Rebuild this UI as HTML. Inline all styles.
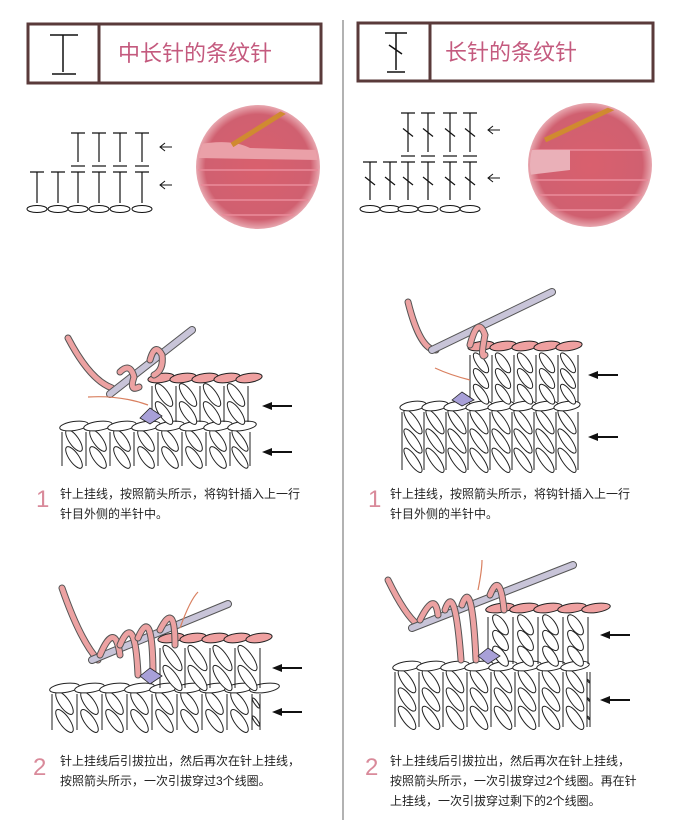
<!DOCTYPE html>
<html><head><meta charset="utf-8">
<style>
html,body{margin:0;padding:0;background:#fff;}
body{width:690px;height:820px;position:relative;overflow:hidden;font-family:"Liberation Sans","Noto Sans CJK SC",sans-serif;}
.t{position:absolute;font-size:12px;color:#222;line-height:20px;white-space:nowrap;}
.n{position:absolute;font-size:24px;color:#d98a9a;font-family:"Liberation Sans",sans-serif;}
.h{position:absolute;font-size:22px;color:#c45a7e;font-family:"Liberation Sans","Noto Sans CJK SC",sans-serif;}
svg{position:absolute;left:0;top:0;}
</style></head><body>
<svg id="s" width="690" height="820" viewBox="0 0 690 820">
<defs>
<radialGradient id="ph" cx="50%" cy="50%" r="50%"><stop offset="0" stop-color="#d9606e"/><stop offset="0.85" stop-color="#d06070"/><stop offset="1" stop-color="#e8a8b0"/></radialGradient>
<clipPath id="c1"><circle cx="258" cy="167" r="60"/></clipPath>
<clipPath id="c2"><circle cx="590" cy="165" r="60"/></clipPath>
</defs>
<line x1="343" y1="20" x2="343" y2="820" stroke="#666" stroke-width="1"/>
<rect x="28" y="24" width="293" height="59" fill="none" stroke="#5a3a3a" stroke-width="3"/>
<line x1="99" y1="24" x2="99" y2="83" stroke="#5a3a3a" stroke-width="3"/>
<rect x="358" y="23" width="295" height="58" fill="none" stroke="#5a3a3a" stroke-width="3"/>
<line x1="430" y1="23" x2="430" y2="81" stroke="#5a3a3a" stroke-width="3"/>
<g stroke="#111" stroke-width="1.5" fill="none">
<path d="M50 35H78M63 35V72M52 74H76"/>
<path d="M385 33H407M396 33V70M387 72H405M389 45L402 54"/>
</g>
<circle cx="258" cy="167" r="62" fill="url(#ph)"/>
<circle cx="590" cy="165" r="62" fill="url(#ph)"/>
<g clip-path="url(#c1)">
<g stroke="#e88a98" stroke-width="2" fill="none" opacity="0.8"><path d="M195 185 H320M195 200 H320M195 170 H320M195 215 H320"/></g>
<path d="M195 145 Q230 138 250 148 L320 150 L320 160 L195 158Z" fill="#eaa0a8"/>
<path d="M232 145 L300 102" stroke="#d08a30" stroke-width="5"/>
</g>
<g clip-path="url(#c2)">
<g stroke="#e88a98" stroke-width="2" fill="none" opacity="0.8"><path d="M528 180 H652M528 195 H652M528 210 H652M528 150 H652"/></g>
<path d="M528 150 L570 150 L570 170 L528 175Z" fill="#eab0b8"/>
<path d="M545 140 L630 100" stroke="#d08a30" stroke-width="5"/>
</g>
<g id="g"></g>
</svg>
<div class="h" style="left:118px;top:36px;">中长针的条纹针</div>
<div class="h" style="left:445px;top:35px;">长针的条纹针</div>
<div class="n" style="left:36px;top:486px;">1</div>
<div class="t" style="left:60px;top:484px;">针上挂线，按照箭头所示，将钩针插入上一行<br>针目外侧的半针中。</div>
<div class="n" style="left:368px;top:486px;">1</div>
<div class="t" style="left:390px;top:484px;">针上挂线，按照箭头所示，将钩针插入上一行<br>针目外侧的半针中。</div>
<div class="n" style="left:33px;top:754px;">2</div>
<div class="t" style="left:60px;top:751px;">针上挂线后引拔拉出，然后再次在针上挂线，<br>按照箭头所示，一次引拔穿过3个线圈。</div>
<div class="n" style="left:365px;top:754px;">2</div>
<div class="t" style="left:390px;top:751px;">针上挂线后引拔拉出，然后再次在针上挂线，<br>按照箭头所示，一次引拔穿过2个线圈。再在针<br>上挂线，一次引拔穿过剩下的2个线圈。</div>
<script>
var g=document.getElementById('g'),h='';
function T(x,y1,y2,dc){h+='<path d="M'+(x-7)+' '+y1+'H'+(x+7)+'M'+x+' '+y1+'V'+y2+'" stroke="#111" stroke-width="1.2" fill="none"/>';if(dc)h+='<line x1="'+(x-5)+'" y1="'+((y1+y2)/2-4)+'" x2="'+(x+5)+'" y2="'+((y1+y2)/2+4)+'" stroke="#111" stroke-width="1.2"/>';}
function B(x,y){h+='<line x1="'+(x-7)+'" y1="'+y+'" x2="'+(x+7)+'" y2="'+y+'" stroke="#111" stroke-width="1.2"/>';}
function O(x,y){h+='<ellipse cx="'+x+'" cy="'+y+'" rx="10" ry="3.5" fill="#fff" stroke="#111" stroke-width="1"/>';}
function A(x,y,s){h+='<path d="M'+(x+s)+' '+y+'H'+x+'M'+(x+5)+' '+(y-4)+'L'+x+' '+y+'L'+(x+5)+' '+(y+4)+'" stroke="#111" fill="none" stroke-width="1"/>';}
function BA(x,y){h+='<line x1="'+(x+8)+'" y1="'+y+'" x2="'+(x+30)+'" y2="'+y+'" stroke="#111" stroke-width="2"/><path d="M'+x+' '+y+'L'+(x+10)+' '+(y-4)+'L'+(x+10)+' '+(y+4)+'Z" fill="#111"/>';}
[78,99,120,142].forEach(function(x){T(x,133,162);B(x,166);});
[37,58,78,99,120,142].forEach(function(x){T(x,172,203);O(x,209);});
A(160,147,12);A(160,185,12);
[408,428,450,470].forEach(function(x){T(x,113,152,1);B(x,156);});
[370,390,408,428,450,470].forEach(function(x){T(x,162,200,1);O(x,209);});
A(488,130,12);A(488,178,12);
function el(cx,cy,rx,ry){h+='<ellipse cx="'+cx+'" cy="'+cy+'" rx="'+rx+'" ry="'+ry+'" transform="rotate(55 '+cx+' '+cy+')" fill="#fff" stroke="#222" stroke-width="1"/>';}
function row(x0,x1,y0,y1,w){var H=y1-y0;for(var x=x0;x<x1-2;x+=w){var ww=Math.min(w,x1-x);
h+='<path d="M'+x+' '+y0+'V'+y1+'M'+(x+ww)+' '+y0+'V'+y1+'" stroke="#222" stroke-width="1" fill="none"/>';
var n=H>45?3:2;for(var i=0;i<n;i++){var cy=y0+H*(i+0.5)/n;el(x+ww*0.5,cy,Math.min(H/n*0.75,ww*0.75),ww*0.2);}}}
function chain(x0,x1,y,w,col){for(var x=x0;x<x1-4;x+=w){h+='<ellipse cx="'+(x+w/2)+'" cy="'+y+'" rx="'+(w*0.6)+'" ry="4.5" transform="rotate(-8 '+(x+w/2)+' '+y+')" fill="'+col+'" stroke="#222" stroke-width="1"/>';}}
function hook(x1,y1,x2,y2){h+='<line x1="'+x1+'" y1="'+y1+'" x2="'+x2+'" y2="'+y2+'" stroke="#555" stroke-width="8" stroke-linecap="round"/><line x1="'+x1+'" y1="'+y1+'" x2="'+x2+'" y2="'+y2+'" stroke="#c8c4d8" stroke-width="6" stroke-linecap="round"/>';}
function yarn(d){h+='<path d="'+d+'" stroke="#555" stroke-width="7" fill="none" stroke-linecap="round"/><path d="'+d+'" stroke="#eca2a2" stroke-width="5" fill="none" stroke-linecap="round"/>';}
row(62,250,432,466,24);chain(62,250,426,24,'#fff');
row(152,250,386,422,24);chain(150,250,378,22,'#efa0a0');
yarn('M68 338 Q90 380 112 388');
hook(110,394,192,330);yarn('M120 372 q10 -10 14 5 q-5 15 5 10');yarn('M150 360 q5 -18 12 -5 q2 15 -8 20');
h+='<path d="M148 405 Q120 395 88 397" stroke="#d98060" fill="none" stroke-width="1.2"/><path d="M140 418 L150 408 L162 416 L150 424Z" fill="#a8a0d8" stroke="#222" stroke-width="0.8"/>';
BA(262,406);BA(262,452);
row(52,260,694,730,25);chain(52,260,688,25,'#fff');
row(160,260,648,688,25);chain(160,260,638,22,'#efa0a0');
yarn('M62 588 Q80 640 98 660');hook(92,660,228,604);
yarn('M100 655 q15 -35 20 0');yarn('M120 645 q15 -35 18 30');yarn('M138 638 q15 -35 15 40');yarn('M160 630 q15 -30 15 15');
h+='<path d="M140 676 L150 668 L162 676 L150 684Z" fill="#a8a0d8" stroke="#222" stroke-width="0.8"/><path d="M180 628 Q190 600 198 592" stroke="#d98060" fill="none" stroke-width="1.2"/>';
BA(272,668);BA(272,712);
row(402,578,412,470,22);chain(402,578,406,22,'#fff');
row(470,578,355,402,22);chain(470,578,346,22,'#efa0a0');
yarn('M408 302 Q420 350 436 350');hook(432,350,552,292);yarn('M470 345 q8 -30 15 -10 q-5 25 0 20');
h+='<path d="M470 380 Q450 375 435 368" stroke="#d98060" fill="none" stroke-width="1.2"/><path d="M452 400 L462 392 L474 400 L462 406Z" fill="#a8a0d8" stroke="#222" stroke-width="0.8"/>';
BA(588,375);BA(588,437);
row(395,590,672,727,24);chain(395,590,666,24,'#fff');
row(488,590,617,664,25);chain(488,590,608,24,'#efa0a0');
yarn('M388 580 Q405 615 418 625');hook(412,628,573,565);
yarn('M420 620 q15 -30 18 -5');yarn('M445 610 q10 -30 16 50');yarn('M462 605 q10 -30 14 55');yarn('M490 595 q10 -25 14 15');
h+='<path d="M478 656 L488 648 L500 656 L488 664Z" fill="#a8a0d8" stroke="#222" stroke-width="0.8"/><path d="M478 590 Q482 570 482 560" stroke="#d98060" fill="none" stroke-width="1.2"/>';
BA(600,635);BA(600,700);
g.innerHTML=h;
</script>
</body></html>
